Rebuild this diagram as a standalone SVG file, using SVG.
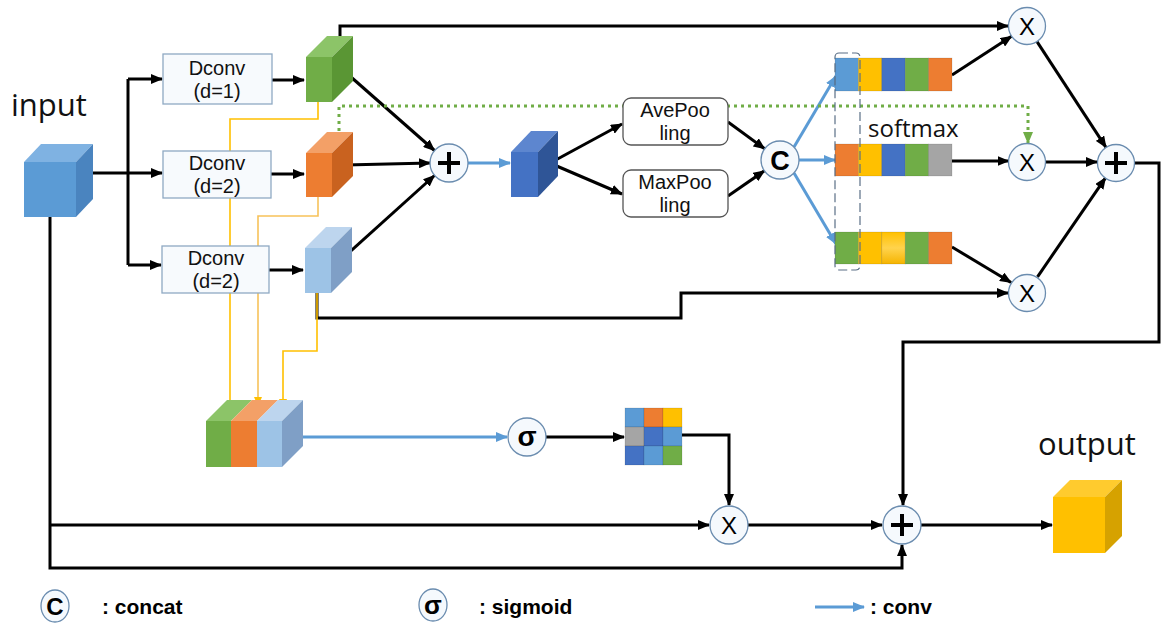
<svg xmlns="http://www.w3.org/2000/svg" width="1165" height="629" viewBox="0 0 1165 629">
  <style>
    .ln { fill: none; stroke: #000; stroke-width: 3; }
    .bl { fill: none; stroke: #5b9bd5; stroke-width: 3; }
    .yl { fill: none; stroke: #ffc000; stroke-width: 1.6; }
    .yl2 { fill: none; stroke: #f7c25a; stroke-width: 1.6; }
    .dot { fill: none; stroke: #70ad47; stroke-width: 3; stroke-dasharray: 3 4; }
    .op { fill: #f5f9fd; stroke: #6a8caf; stroke-width: 1.3; }
    .sym { fill: none; stroke: #000; stroke-width: 4; }
    .dbox { fill: #f7fafd; stroke: #8fa9c3; stroke-width: 1.3; }
    .pbox { fill: #fff; stroke: #555; stroke-width: 1.3; }
    .lbl { font-family: "Open Sans", "Noto Sans", sans-serif; font-weight: 500; fill: #111; }
    .box { font-family: "Liberation Sans", Arial, sans-serif; font-size: 20px; fill: #111; text-anchor: middle; }
    .opt { font-family: "Liberation Sans", Arial, sans-serif; fill: #000; text-anchor: middle; }
    .leg { font-family: "Liberation Sans", Arial, sans-serif; font-weight: bold; font-size: 21px; fill: #000; }
    .cell { stroke: rgba(0,0,0,0.18); stroke-width: 0.6; }
  </style>
  <defs>
    <marker id="ah" markerUnits="userSpaceOnUse" markerWidth="12" markerHeight="10" refX="11" refY="5" orient="auto">
      <path d="M0,0 L12,5 L0,10 Z" fill="#000"/>
    </marker>
    <marker id="ahb" markerUnits="userSpaceOnUse" markerWidth="12" markerHeight="10" refX="11" refY="5" orient="auto">
      <path d="M0,0 L12,5 L0,10 Z" fill="#5b9bd5"/>
    </marker>
    <marker id="ahg" markerUnits="userSpaceOnUse" markerWidth="12" markerHeight="10" refX="11" refY="5" orient="auto">
      <path d="M0,0 L12,5 L0,10 Z" fill="#70ad47"/>
    </marker>
    <marker id="ahy" markerUnits="userSpaceOnUse" markerWidth="9" markerHeight="8" refX="8" refY="4" orient="auto">
      <path d="M0,0 L9,4 L0,8 Z" fill="#ffc000"/>
    </marker>
    <linearGradient id="ygrad" x1="0" y1="0" x2="0" y2="1">
      <stop offset="0" stop-color="#ffc000"/>
      <stop offset="0.5" stop-color="#ffd34d"/>
      <stop offset="1" stop-color="#f5b400"/>
    </linearGradient>
  </defs>

  <!-- connectors -->
  <g id="connectors">
    <!-- yellow feature taps down to the stacked block -->
    <path class="yl" d="M318,102 V119 H230 V419"/>
    <path class="yl2" d="M318,197 V216 H258 V405" marker-end="url(#ahy)"/>
    <!-- input fan-out -->
    <path class="ln" d="M93,173 H128"/>
    <path class="ln" d="M128,79 V265"/>
    <path class="ln" d="M128,79 H162" marker-end="url(#ah)"/>
    <path class="ln" d="M128,173 H162" marker-end="url(#ah)"/>
    <path class="ln" d="M128,265 H161" marker-end="url(#ah)"/>
    <!-- Dconv to branch features -->
    <path class="ln" d="M272,80 H304" marker-end="url(#ah)"/>
    <path class="ln" d="M271,174 H304" marker-end="url(#ah)"/>
    <path class="ln" d="M269,270 H303" marker-end="url(#ah)"/>
    <!-- branches into the sum -->
    <path class="ln" d="M343,70 L434.5,150.5" marker-end="url(#ah)"/>
    <path class="ln" d="M345,165 L430,163" marker-end="url(#ah)"/>
    <path class="ln" d="M343,258 L434.5,175.5" marker-end="url(#ah)"/>
    <path class="bl" d="M468,163 H510" marker-end="url(#ahb)"/>
    <!-- pooling -->
    <path class="ln" d="M552,162 L622,124" marker-end="url(#ah)"/>
    <path class="ln" d="M552,164 L622,194" marker-end="url(#ah)"/>
    <path class="ln" d="M728,122 L764.7,148.8" marker-end="url(#ah)"/>
    <path class="ln" d="M728,196 L764.4,170.8" marker-end="url(#ah)"/>
    <!-- concat to attention vectors -->
    <path class="bl" d="M794,147 L836,76" marker-end="url(#ahb)"/>
    <path class="bl" d="M799,160 H835" marker-end="url(#ahb)"/>
    <path class="bl" d="M794,173 L836,244" marker-end="url(#ahb)"/>
    <!-- green dotted skip from the second branch -->
    <path class="dot" d="M339,131 V106 H1028 V143" marker-end="url(#ahg)"/>
    <!-- branch features to the products -->
    <path class="ln" d="M340,36 V26 H1008" marker-end="url(#ah)"/>
    <path class="ln" d="M317,293 V318 H681 V293 H1008" marker-end="url(#ah)"/>
    <path class="yl" d="M317,293 V351 H283 V407" marker-end="url(#ahy)"/>
    <path class="ln" d="M952,75 L1011.6,36.3" marker-end="url(#ah)"/>
    <path class="ln" d="M952,161 H1008.5" marker-end="url(#ah)"/>
    <path class="ln" d="M952,247 L1011.1,282.5" marker-end="url(#ah)"/>
    <!-- products to the branch sum -->
    <path class="ln" d="M1037,41.6 L1106,147.4" marker-end="url(#ah)"/>
    <path class="ln" d="M1046,162 H1097" marker-end="url(#ah)"/>
    <path class="ln" d="M1037.5,276.8 L1105.5,177.8" marker-end="url(#ah)"/>
    <path class="ln" d="M1135,163 H1159 V342 H903 V505" marker-end="url(#ah)"/>
    <!-- spatial attention path -->
    <path class="bl" d="M303,437 H507" marker-end="url(#ahb)"/>
    <path class="ln" d="M546,437 H624" marker-end="url(#ah)"/>
    <path class="ln" d="M682,435 H729 V505" marker-end="url(#ah)"/>
    <!-- residual paths from input -->
    <path class="ln" d="M50,217 V568 H902 V545" marker-end="url(#ah)"/>
    <path class="ln" d="M50,525 H709" marker-end="url(#ah)"/>
    <path class="ln" d="M748,525 H882" marker-end="url(#ah)"/>
    <path class="ln" d="M921,525 H1052" marker-end="url(#ah)"/>
  </g>

  <!-- input -->
  <g id="input">
    <text class="lbl" x="11" y="116" font-size="31">input</text>
    <polygon points="24,162 41,144 93,144 76,162" fill="#7fb2e2"/>
    <polygon points="76,162 93,144 93,199 76,217" fill="#4a84bf"/>
    <rect x="24" y="162" width="52" height="55" fill="#5b9bd5"/>
  </g>

  <!-- dilated convolutions -->
  <g id="dconv1">
    <rect class="dbox" x="163" y="54" width="109" height="50"/>
    <text class="box" x="217" y="75">Dconv</text>
    <text class="box" x="217" y="98">(d=1)</text>
  </g>
  <g id="dconv2">
    <rect class="dbox" x="163" y="151" width="108" height="47"/>
    <text class="box" x="217" y="170">Dconv</text>
    <text class="box" x="217" y="193">(d=2)</text>
  </g>
  <g id="dconv3">
    <rect class="dbox" x="162" y="246" width="107" height="47"/>
    <text class="box" x="216" y="265">Dconv</text>
    <text class="box" x="216" y="288">(d=2)</text>
  </g>

  <!-- branch feature maps -->
  <g id="feat1">
    <polygon points="306,57 327,36 353,36 332,57" fill="#8cc468"/>
    <polygon points="332,57 353,36 353,81 332,102" fill="#5a9634"/>
    <rect x="306" y="57" width="26" height="45" fill="#70ad47"/>
  </g>
  <g id="feat2">
    <polygon points="306,153 327,132 353,132 332,153" fill="#f3a067"/>
    <polygon points="332,153 353,132 353,176 332,197" fill="#c9621f"/>
    <rect x="306" y="153" width="26" height="44" fill="#ed7d31"/>
  </g>
  <g id="feat3">
    <polygon points="305,248 326,227 352,227 331,248" fill="#bdd5ee"/>
    <polygon points="331,248 352,227 352,272 331,293" fill="#7f9fc6"/>
    <rect x="305" y="248" width="26" height="45" fill="#9dc3e6"/>
  </g>

  <!-- fusion sum -->
  <g id="sum1">
    <circle class="op" cx="449" cy="163" r="19"/>
    <path class="sym" d="M438,163 H460 M449,152 V174"/>
  </g>

  <g id="fused">
    <polygon points="511,152 531,131 558,131 538,152" fill="#5d86cf"/>
    <polygon points="538,152 558,131 558,176 538,197" fill="#2f5597"/>
    <rect x="511" y="152" width="27" height="45" fill="#4472c4"/>
  </g>

  <!-- pooling -->
  <g id="avepool">
    <rect class="pbox" x="623" y="98" width="105" height="47" rx="8"/>
    <text class="box" x="675" y="117">AvePoo</text>
    <text class="box" x="675" y="140">ling</text>
  </g>
  <g id="maxpool">
    <rect class="pbox" x="623" y="170" width="105" height="47" rx="8"/>
    <text class="box" x="675" y="189">MaxPoo</text>
    <text class="box" x="675" y="212">ling</text>
  </g>

  <g id="concat">
    <circle class="op" cx="780" cy="160" r="19"/>
    <text class="opt" x="780" y="170" font-size="27" font-weight="bold">C</text>
  </g>

  <!-- attention vectors -->
  <g id="vec1">
    <rect class="cell" x="835" y="58" width="23.4" height="33" fill="#5b9bd5"/>
    <rect class="cell" x="858.4" y="58" width="23.4" height="33" fill="#ffc000"/>
    <rect class="cell" x="881.8" y="58" width="23.4" height="33" fill="#4472c4"/>
    <rect class="cell" x="905.2" y="58" width="23.4" height="33" fill="#70ad47"/>
    <rect class="cell" x="928.6" y="58" width="23.4" height="33" fill="#ed7d31"/>
  </g>
  <g id="vec2">
    <rect class="cell" x="835" y="144" width="23.4" height="32" fill="#ed7d31"/>
    <rect class="cell" x="858.4" y="144" width="23.4" height="32" fill="#ffc000"/>
    <rect class="cell" x="881.8" y="144" width="23.4" height="32" fill="#4472c4"/>
    <rect class="cell" x="905.2" y="144" width="23.4" height="32" fill="#70ad47"/>
    <rect class="cell" x="928.6" y="144" width="23.4" height="32" fill="#a5a5a5"/>
  </g>
  <g id="vec3">
    <rect class="cell" x="835" y="232" width="23.4" height="32" fill="#70ad47"/>
    <rect class="cell" x="858.4" y="232" width="23.4" height="32" fill="#ffc000"/>
    <rect class="cell" x="881.8" y="232" width="23.4" height="32" fill="url(#ygrad)"/>
    <rect class="cell" x="905.2" y="232" width="23.4" height="32" fill="#70ad47"/>
    <rect class="cell" x="928.6" y="232" width="23.4" height="32" fill="#ed7d31"/>
  </g>
  <g id="softmax">
    <rect x="835" y="53" width="25" height="217" rx="4" fill="none" stroke="#5a6f86" stroke-width="1.2" stroke-dasharray="9 4"/>
    <text class="lbl" x="868" y="137" font-size="24">softmax</text>
  </g>

  <!-- products and branch sum -->
  <g id="mul1">
    <circle class="op" cx="1027" cy="26" r="18.5"/>
    <text class="opt" x="1027" y="34.5" font-size="24">X</text>
  </g>
  <g id="mul2">
    <circle class="op" cx="1027" cy="162" r="18.5"/>
    <text class="opt" x="1027" y="170.5" font-size="24">X</text>
  </g>
  <g id="mul3">
    <circle class="op" cx="1027" cy="293" r="18.5"/>
    <text class="opt" x="1027" y="301.5" font-size="24">X</text>
  </g>
  <g id="sum2">
    <circle class="op" cx="1116" cy="163" r="18.5"/>
    <path class="sym" d="M1105,163 H1127 M1116,152 V174"/>
  </g>

  <!-- spatial attention -->
  <g id="stack">
    <polygon points="206,421 227,400 252,400 231,421" fill="#8cc468"/>
    <polygon points="231,421 252,400 278,400 257,421" fill="#f3a067"/>
    <polygon points="257,421 278,400 303,400 282,421" fill="#bdd5ee"/>
    <polygon points="282,421 303,400 303,446 282,467" fill="#7f9fc6"/>
    <rect x="206" y="421" width="25" height="46" fill="#70ad47"/>
    <rect x="231" y="421" width="26" height="46" fill="#ed7d31"/>
    <rect x="257" y="421" width="25" height="46" fill="#9dc3e6"/>
  </g>
  <g id="sigmoid">
    <circle class="op" cx="527" cy="437" r="19"/>
    <text class="opt" x="527" y="446" font-size="28" font-weight="bold">σ</text>
  </g>
  <g id="map">
    <rect class="cell" x="625" y="408" width="19" height="19" fill="#5b9bd5"/>
    <rect class="cell" x="644" y="408" width="19" height="19" fill="#ed7d31"/>
    <rect class="cell" x="663" y="408" width="19" height="19" fill="#ffc000"/>
    <rect class="cell" x="625" y="427" width="19" height="19" fill="#a5a5a5"/>
    <rect class="cell" x="644" y="427" width="19" height="19" fill="#4472c4"/>
    <rect class="cell" x="663" y="427" width="19" height="19" fill="#5b9bd5"/>
    <rect class="cell" x="625" y="446" width="19" height="19" fill="#4472c4"/>
    <rect class="cell" x="644" y="446" width="19" height="19" fill="#5b9bd5"/>
    <rect class="cell" x="663" y="446" width="19" height="19" fill="#70ad47"/>
  </g>
  <g id="mul4">
    <circle class="op" cx="729" cy="525" r="19"/>
    <text class="opt" x="729" y="534" font-size="24">X</text>
  </g>
  <g id="sum3">
    <circle class="op" cx="902" cy="525" r="19"/>
    <path class="sym" d="M891,525 H913 M902,514 V536"/>
  </g>

  <!-- output -->
  <g id="output">
    <text class="lbl" x="1038" y="455" font-size="31">output</text>
    <polygon points="1053,497 1070,480 1122,480 1105,497" fill="#ffcb2e"/>
    <polygon points="1105,497 1122,480 1122,536 1105,553" fill="#d6a200"/>
    <rect x="1053" y="497" width="52" height="56" fill="#ffc000"/>
  </g>

  <!-- legend -->
  <g id="legend">
    <ellipse class="op" cx="55" cy="606" rx="14" ry="16"/>
    <text class="opt" x="55" y="615" font-size="24" font-weight="bold">C</text>
    <text class="leg" x="102" y="614">: concat</text>
    <ellipse class="op" cx="433" cy="605" rx="14" ry="16"/>
    <text class="opt" x="433" y="614" font-size="26" font-weight="bold">σ</text>
    <text class="leg" x="479" y="614">: sigmoid</text>
    <path class="bl" d="M815,607 H864" marker-end="url(#ahb)"/>
    <text class="leg" x="870" y="614">: conv</text>
  </g>
</svg>
